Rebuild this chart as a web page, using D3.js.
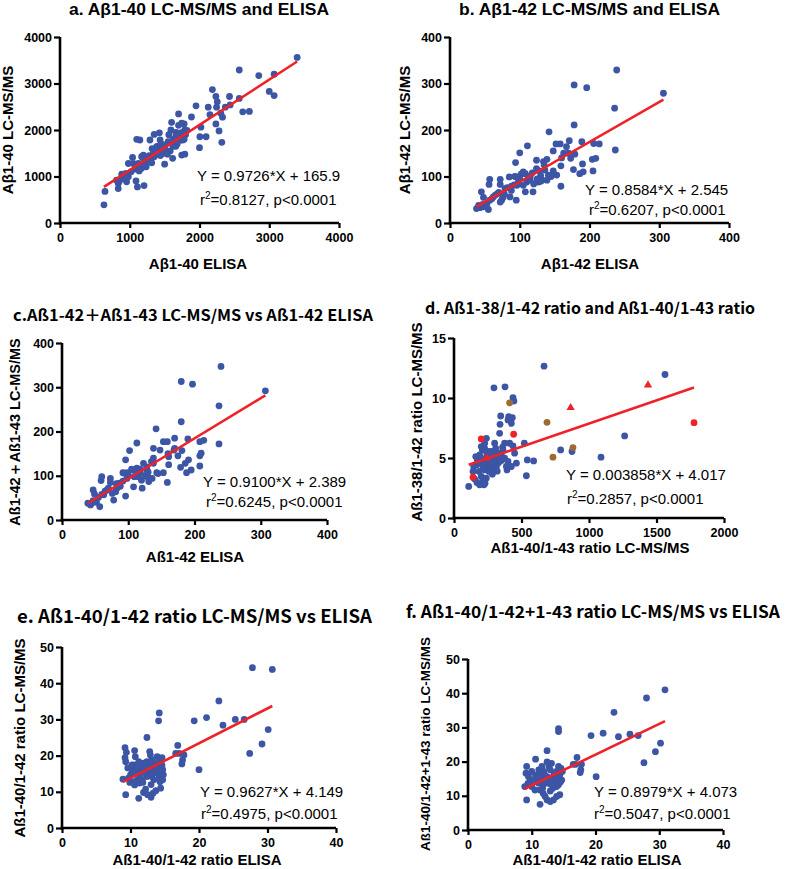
<!DOCTYPE html>
<html><head><meta charset="utf-8">
<script src="https://cdn.jsdelivr.net/npm/d3@7"></script>
<style>
html,body{margin:0;padding:0;background:#fff;}
svg{display:block;}
text{font-family:"Liberation Sans",Arial,Helvetica,sans-serif;fill:#000;}
.ttl2{font-family:"Noto Sans CJK JP","Liberation Sans",Arial,sans-serif;}
</style></head>
<body>
<script>
// ---------- DATA ----------
const titles = [
  "a. A\u03b21-40 LC-MS/MS and ELISA",
  "b. A\u03b21-42 LC-MS/MS and ELISA",
  "c.A\u00df1-42\uff0bA\u00df1-43 LC-MS/MS vs A\u00df1-42 ELISA",
  "d. A\u00df1-38/1-42 ratio and A\u00df1-40/1-43 ratio",
  "e. A\u00df1-40/1-42 ratio LC-MS/MS vs ELISA",
  "f. A\u00df1-40/1-42+1-43 ratio LC-MS/MS vs ELISA"
];
const xTitles = ["A\u03b21-40 ELISA","A\u03b21-42 ELISA","A\u00df1-42 ELISA","A\u00df1-40/1-43 ratio LC-MS/MS","A\u00df1-40/1-42 ratio ELISA","A\u00df1-40/1-42 ratio ELISA"];
const yTitles = ["A\u03b21-40 LC-MS/MS","A\u03b21-42  LC-MS/MS","A\u00df1-42\uff0bA\u00df1-43 LC-MS/MS","A\u00df1-38/1-42 ratio LC-MS/MS","A\u00df1-40/1-42 ratio LC-MS/MS","A\u00df1-40/1-42+1-43 ratio LC-MS/MS"];
const xTicks = [[0,1000,2000,3000,4000],[0,100,200,300,400],[0,100,200,300,400],[0,500,1000,1500,2000],[0,10,20,30,40],[0,10,20,30,40]];
const yTicks = [[0,1000,2000,3000,4000],[0,100,200,300,400],[0,100,200,300,400],[0,5,10,15],[0,10,20,30,40,50],[0,10,20,30,40,50]];
const equations = ["Y = 0.9726*X + 165.9","Y = 0.8584*X + 2.545","Y = 0.9100*X + 2.389","Y = 0.003858*X + 4.017","Y = 0.9627*X + 4.149","Y = 0.8979*X + 4.073"];
const r2Text = ["=0.8127, p<0.0001","=0.6207, p<0.0001","=0.6245, p<0.0001","=0.2857, p<0.0001","=0.4975, p<0.0001","=0.5047, p<0.0001"];
const slopes = [0.9726, 0.8584, 0.9100, 0.003858, 0.9627, 0.8979];
const intercepts = [165.9, 2.545, 2.389, 4.017, 4.149, 4.073];

const dataA = [[630,390],[645,680],[3400,3560],[2570,3290],[2850,3170],[3070,3200],[3000,2830],[3070,2740],[2185,2870],[2430,2720],[2570,2680],[2620,2390],[2715,2400],[2440,2540],[2370,2490],[2255,2605],[2245,2490],[2235,2720],[2125,2490],[2150,2330],[2305,2360],[2330,2275],[2280,1980],[2320,1735],[2235,2130],[1950,2520],[1885,2280],[2020,2060],[2095,1855],[2005,1855],[2000,1620],[1700,2345],[1600,2165],[1745,2145],[1780,2130],[1590,2000],[1675,1940],[1790,2000],[1760,1785],[1625,1710],[1745,1460],[1790,1480],[1615,1390],[1500,1265],[1530,1530],[1435,1785],[1350,1905],[1425,1940],[1290,1785],[1385,1640],[1460,1570],[1340,1530],[1350,1425],[1265,1390],[1315,1295],[1235,1210],[1170,1425],[1100,1800],[1145,1785],[1195,1460],[1125,1280],[1170,1175],[1040,1410],[1050,1280],[980,1280],[1100,1210],[1135,1120],[945,1065],[885,1050],[810,920],[835,850],[835,740],[955,885],[1090,905],[1110,775],[1205,805],[980,995],[1400,1650],[1450,1700],[1500,1600],[1550,1750],[1620,1800],[1660,1860],[1700,1900],[1750,1950],[1800,1900],[1720,1780],[1680,1700],[1620,1650],[1580,1550],[1480,1500],[1420,1560],[1380,1480],[1320,1600],[1280,1450],[1240,1420],[1200,1380],[1300,1350],[1360,1580],[1440,1450],[1510,1680],[1560,1900],[1660,1950],[1820,1990],[1700,2100],[1780,1800],[1400,1520],[1460,1620],[1540,1480],[1660,1650],[1720,1850],[1250,1300],[1180,1260],[1080,1160],[1020,1100],[900,950],[850,900]];

const dataB = [[239,329],[306,279],[178,297],[196,291],[236,247],[237,157],[178,211],[142,196],[189,175],[214,170],[206,171],[171,177],[158,170],[152,170],[111,166],[100,151],[94,130],[148,155],[163,150],[173,139],[167,164],[179,148],[190,127],[209,139],[204,137],[177,115],[186,106],[191,110],[205,112],[159,123],[153,103],[159,79],[139,137],[134,132],[136,114],[141,103],[148,112],[139,92],[132,92],[124,117],[127,88],[119,67],[115,99],[108,106],[102,105],[96,99],[110,88],[105,81],[96,81],[88,79],[108,67],[95,49],[85,99],[72,94],[72,83],[57,94],[56,83],[79,74],[78,62],[68,63],[62,56],[74,49],[72,45],[57,49],[53,42],[45,67],[48,55],[55,29],[43,33],[38,31],[41,38],[48,35],[86,56],[124,135],[112,100],[118,108],[125,95],[130,102],[100,95],[105,110],[115,92],[120,84],[92,82],[88,70],[82,76],[65,60],[60,52],[70,66],[76,55],[47,40],[52,35],[130,90],[145,100],[160,140],[170,150],[135,125],[128,112],[98,88],[93,100]];

const dataC = [[240,347],[307,292],[180,313],[197,307],[237,258],[237,172],[180,222],[142,206],[113,174],[102,157],[96,136],[190,183],[208,177],[214,180],[170,185],[153,177],[159,177],[138,162],[148,158],[169,158],[181,157],[161,143],[175,145],[208,145],[210,151],[191,136],[186,128],[195,113],[188,107],[179,119],[208,122],[161,125],[153,107],[159,85],[138,140],[138,128],[143,107],[136,94],[123,128],[118,107],[121,72],[113,117],[106,113],[98,107],[109,98],[108,75],[96,54],[92,107],[86,83],[73,94],[60,98],[59,89],[73,85],[68,68],[81,64],[78,45],[63,57],[55,51],[47,68],[49,59],[57,30],[45,38],[43,34],[39,38],[83,72],[128,113],[131,87],[112,110],[118,115],[125,100],[130,108],[100,100],[105,115],[115,98],[120,90],[92,88],[88,76],[82,82],[65,65],[60,58],[70,72],[76,60],[47,44],[52,40],[130,96],[145,105],[160,150],[170,162],[135,132],[128,120],[98,94],[93,106]];

const dataDBlue = [[667,12.65],[1563,11.96],[296,10.85],[378,10.93],[437,10.02],[444,9.74],[346,8.50],[405,8.44],[432,8.36],[400,8.17],[425,7.89],[341,7.81],[338,7.06],[375,6.23],[301,6.23],[240,6.64],[437,6.01],[412,6.23],[521,6.23],[449,5.40],[363,5.67],[338,5.34],[543,4.84],[590,4.76],[536,3.52],[790,5.67],[874,5.54],[1264,6.84],[1089,5.07],[425,4.29],[393,4.01],[462,4.57],[109,2.63],[141,3.88],[153,3.24],[170,2.96],[190,2.77],[222,2.77],[202,3.46],[185,3.88],[170,4.43],[173,4.84],[190,5.26],[210,5.67],[227,5.81],[244,5.40],[264,5.12],[277,4.84],[289,4.57],[254,4.29],[227,4.01],[259,3.88],[284,3.65],[239,3.32],[215,3.04],[264,4.98],[314,4.98],[326,5.40],[309,5.81],[277,5.54],[351,4.79],[351,5.26],[375,4.98],[400,4.71],[388,4.29],[314,4.29],[289,4.01],[185,4.71],[161,5.12],[202,5.95],[227,6.23],[252,5.54],[227,4.57],[146,4.29],[294,5.40],[230,2.9],[200,5.0],[250,4.6],[270,4.3],[300,4.6],[330,4.6],[280,5.2],[320,3.9],[360,5.9],[240,5.0],[215,4.3]];
const dataDBrown = [[412,9.6],[689,7.97],[881,5.87],[733,5.07]];
const dataDRedCircle = [[202,6.59],[442,6.98],[1778,7.94],[141,3.40]];
const dataDRedTriangle = [[864,9.19],[1437,11.07],[242,5.0]];

const dataE = [[27.8,44.3],[30.7,43.8],[22.9,35.1],[21.1,30.5],[19.3,29.6],[23.5,28.4],[25.3,30.0],[26.6,30.0],[30.1,27.2],[29.2,23.2],[27.4,20.6],[20.0,16.1],[16.9,22.8],[16.6,20.6],[17.1,20.6],[17.8,20.2],[17.6,18.8],[17.5,17.7],[14.2,31.8],[14.1,29.6],[12.4,25.0],[9.2,22.2],[9.4,20.9],[9.2,19.4],[9.3,18.3],[9.3,9.2],[8.9,13.5],[9.9,12.6],[11.2,8.2],[13.0,8.5],[12.5,9.2],[13.3,9.6],[13.7,10.3],[14.4,11.0],[12.2,10.7],[11.9,9.8],[10.5,17.4],[10.2,16.1],[10.7,15.1],[11.0,13.3],[10.6,11.9],[11.3,12.4],[11.4,14.2],[11.7,16.1],[11.9,17.9],[12.4,18.3],[12.6,17.0],[12.9,15.6],[13.1,14.2],[13.4,13.3],[13.9,15.1],[14.1,17.0],[14.4,18.8],[14.6,17.4],[14.7,16.1],[14.8,14.7],[13.9,19.7],[13.1,18.8],[12.8,21.1],[13.9,17.9],[12.0,15.6],[11.2,15.6],[10.0,14.7],[9.7,13.8],[11.7,13.3],[12.4,14.2],[13.5,16.1],[14.3,12.8],[14.7,13.3],[10.7,19.7],[10.6,21.4],[11.2,18.3],[10.2,17.4],[12.0,16.8],[12.3,15.0],[12.8,16.4],[13.3,17.4],[13.6,15.8],[14.0,16.5],[11.5,17.0],[11.0,16.4],[12.6,14.6],[13.2,15.4],[14.5,15.6],[14.2,14.2],[10.4,12.8],[9.6,16.6],[12.9,20.2],[14.6,19.4],[11.8,12.6],[13.0,12.0]];

const dataF = [[30.9,41.0],[28.0,38.6],[22.9,34.4],[21.2,28.3],[19.3,27.6],[23.6,27.3],[25.4,28.0],[26.7,27.6],[30.2,25.4],[29.4,22.9],[27.6,19.7],[20.1,15.6],[17.1,21.2],[16.5,19.2],[16.9,19.2],[17.8,19.2],[17.7,17.6],[17.6,16.8],[14.2,29.6],[14.2,28.8],[12.4,23.2],[9.2,18.6],[9.1,16.6],[10.6,20.7],[9.2,8.8],[8.9,12.7],[11.3,7.5],[12.4,8.8],[12.9,8.3],[13.4,8.8],[13.9,9.8],[14.4,10.3],[12.1,9.8],[11.8,10.7],[9.5,15.6],[9.8,14.2],[10.0,12.7],[10.3,14.6],[10.8,16.1],[11.1,13.7],[11.3,11.7],[11.6,15.1],[11.9,17.1],[12.4,15.6],[12.6,13.7],[12.9,17.6],[13.1,19.5],[13.4,15.6],[13.7,14.2],[13.9,17.1],[14.2,18.6],[14.4,16.1],[14.7,14.6],[14.8,17.1],[12.4,19.9],[11.1,17.6],[10.5,11.7],[10.0,17.1],[11.8,13.2],[13.3,12.2],[13.9,12.7],[14.2,13.2],[11.6,18.6],[10.9,14.6],[12.0,16.2],[12.8,15.0],[13.5,16.6],[14.0,15.5],[11.4,16.4],[10.6,15.8],[12.2,14.4],[13.0,13.4],[14.5,14.0],[9.4,13.6],[12.7,18.6],[14.6,18.0],[11.7,12.2],[12.9,11.4]];

// ---------- LAYOUT ----------
const BLUE = "#3c55a5", RED = "#ee2228", BROWN = "#9c6b33";
const W = 787, H = 869;
const svg = d3.select("body").append("svg").attr("width", W).attr("height", H);

const panels = [
  {x0:60, x1:339, y0:223, y1:37, ttlX:69, ttlY:15, ttlW:260, ttlFs:16, ttlCls:"", xtX:198, xtY:269, ytX:13, ytY:130, ytFs:15, eqX:197, eqY:181, rX:200, rY:205, series:[{d:dataA,c:BLUE,s:"c"}]},
  {x0:450, x1:729, y0:223, y1:37, ttlX:459, ttlY:15, ttlW:261, ttlFs:16, ttlCls:"", xtX:590, xtY:269, ytX:410, ytY:130, ytFs:15, eqX:585, eqY:195, rX:589, rY:215, series:[{d:dataB,c:BLUE,s:"c"}]},
  {x0:62, x1:327, y0:520, y1:343, ttlX:13, ttlY:321, ttlW:360, ttlFs:15.5, ttlCls:"ttl2", xtX:195, xtY:562, ytX:20, ytY:432, ytFs:14.5, eqX:203, eqY:487, rX:206, rY:507, series:[{d:dataC,c:BLUE,s:"c"}]},
  {x0:454, x1:724, y0:518, y1:338, ttlX:425, ttlY:314, ttlW:330, ttlFs:15.5, ttlCls:"ttl2", xtX:590, xtY:553, ytX:422, ytY:422, ytFs:15, eqX:566, eqY:480, rX:567, rY:504, series:[{d:dataDBlue,c:BLUE,s:"c"},{d:dataDBrown,c:BROWN,s:"c"},{d:dataDRedCircle,c:RED,s:"c"},{d:dataDRedTriangle,c:RED,s:"t"}]},
  {x0:62, x1:336, y0:828, y1:647, ttlX:17, ttlY:623, ttlW:355, ttlFs:18, ttlCls:"ttl2", xtX:197, xtY:865, ytX:25, ytY:738, ytFs:15, eqX:200, eqY:797, rX:201, rY:819, series:[{d:dataE,c:BLUE,s:"c"}]},
  {x0:468, x1:723, y0:830, y1:659, ttlX:406, ttlY:618, ttlW:374, ttlFs:16.5, ttlCls:"ttl2", xtX:597, xtY:865, ytX:430, ytY:744, ytFs:13.5, eqX:594, eqY:797, rX:594, rY:819, series:[{d:dataF,c:BLUE,s:"c"}]}
];

panels.forEach((p, i) => {
  const xt = xTicks[i], yt = yTicks[i];
  const x = d3.scaleLinear().domain([xt[0], xt[xt.length-1]]).range([p.x0, p.x1]);
  const y = d3.scaleLinear().domain([yt[0], yt[yt.length-1]]).range([p.y0, p.y1]);
  const g = svg.append("g");

  // title
  g.append("text").attr("class", p.ttlCls).attr("x", p.ttlX).attr("y", p.ttlY)
    .attr("font-size", p.ttlFs).attr("font-weight", "bold")
    .attr("textLength", p.ttlW).attr("lengthAdjust", "spacingAndGlyphs")
    .text(titles[i]);

  // axes
  const xa = g.append("g").attr("transform", `translate(0,${p.y0})`)
    .call(d3.axisBottom(x).tickValues(xt).tickFormat(d3.format("d")).tickSize(5).tickSizeOuter(0).tickPadding(5));
  const ya = g.append("g").attr("transform", `translate(${p.x0},0)`)
    .call(d3.axisLeft(y).tickValues(yt).tickFormat(d3.format("d")).tickSize(6).tickSizeOuter(0).tickPadding(2));
  [xa, ya].forEach(a => {
    a.select(".domain").attr("stroke", "#000").attr("stroke-width", 2.6);
    a.selectAll(".tick line").attr("stroke", "#000").attr("stroke-width", 2.2);
    a.selectAll(".tick text").attr("font-size", 12.5).attr("font-weight", "bold")
      .attr("font-family", "'Liberation Sans',Arial,sans-serif").attr("fill", "#000");
  });
  xa.select(".domain").attr("d", `M${p.x0-1.3},0H${p.x1}`);
  ya.select(".domain").attr("d", `M0,${p.y0+1.3}V${p.y1}`);

  // axis titles
  g.append("text").attr("x", p.xtX).attr("y", p.xtY).attr("text-anchor", "middle")
    .attr("font-size", 15).attr("font-weight", "bold").text(xTitles[i]);
  g.append("text").attr("transform", `translate(${p.ytX},${p.ytY}) rotate(-90)`).attr("text-anchor", "middle")
    .attr("font-size", p.ytFs).attr("font-weight", "bold").text(yTitles[i]);

  // points
  p.series.forEach(s => {
    if (s.s === "c") {
      g.append("g").selectAll("circle").data(s.d).join("circle")
        .attr("cx", d => x(d[0])).attr("cy", d => y(d[1])).attr("r", 3.4).attr("fill", s.c);
    }
  });

  // regression line
  const allX = p.series.flatMap(s => s.d.map(d => d[0]));
  const xmin = d3.min(allX), xmax = d3.max(allX);
  g.append("line")
    .attr("x1", x(xmin)).attr("y1", y(slopes[i]*xmin + intercepts[i]))
    .attr("x2", x(xmax)).attr("y2", y(slopes[i]*xmax + intercepts[i]))
    .attr("stroke", RED).attr("stroke-width", 2.6);

  // triangles on top
  p.series.forEach(s => {
    if (s.s === "t") {
      g.append("g").selectAll("path").data(s.d).join("path")
        .attr("transform", d => `translate(${x(d[0])},${y(d[1])})`)
        .attr("d", d3.symbol().type(d3.symbolTriangle).size(30)).attr("fill", s.c);
    }
  });

  // equation text
  g.append("text").attr("x", p.eqX).attr("y", p.eqY).attr("font-size", 15).text(equations[i]);
  const rt = g.append("text").attr("x", p.rX).attr("y", p.rY).attr("font-size", 15);
  rt.append("tspan").text("r");
  rt.append("tspan").attr("font-size", 10).attr("dy", -6).text("2");
  rt.append("tspan").attr("dy", 6).text(r2Text[i]);
});
</script>
</body></html>
